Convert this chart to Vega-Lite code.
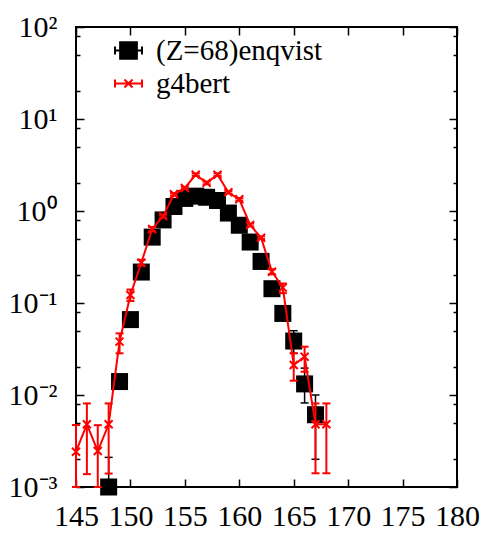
{
  "$schema": "https://vega.github.io/schema/vega-lite/v6.json",
  "width": 381,
  "height": 460,
  "autosize": "none",
  "padding": {"left": 76, "top": 27, "right": 30, "bottom": 49},
  "background": "white",
  "config": {
    "view": {"stroke": "black", "strokeWidth": 2},
    "font": "Liberation Serif",
    "axis": {
      "domain": false,
      "grid": false,
      "ticks": true,
      "tickColor": "black",
      "tickWidth": 1.5,
      "labelFont": "Liberation Serif",
      "labelFontSize": 30,
      "labelColor": "black",
      "title": null
    },
    "legend": {
      "labelFont": "Liberation Serif",
      "labelFontSize": 29,
      "labelColor": "black",
      "labelLimit": 400,
      "title": null,
      "orient": "none",
      "padding": 0,
      "symbolSize": 729,
      "symbolStrokeWidth": 2,
      "labelOffset": 13
    }
  },
  "datasets": {
    "enq": [
      {"A": 148, "v": 0.00100, "lo": 0.00100, "hi": 0.0021},
      {"A": 149, "v": 0.0140, "lo": 0.0130, "hi": 0.0150},
      {"A": 150, "v": 0.0660, "lo": 0.0620, "hi": 0.0700},
      {"A": 151, "v": 0.217, "lo": 0.205, "hi": 0.229},
      {"A": 152, "v": 0.52, "lo": 0.50, "hi": 0.54},
      {"A": 153, "v": 0.80, "lo": 0.78, "hi": 0.82},
      {"A": 154, "v": 1.12, "lo": 1.09, "hi": 1.15},
      {"A": 155, "v": 1.37, "lo": 1.34, "hi": 1.40},
      {"A": 156, "v": 1.45, "lo": 1.42, "hi": 1.48},
      {"A": 157, "v": 1.41, "lo": 1.38, "hi": 1.44},
      {"A": 158, "v": 1.30, "lo": 1.27, "hi": 1.33},
      {"A": 159, "v": 0.95, "lo": 0.92, "hi": 0.98},
      {"A": 160, "v": 0.70, "lo": 0.68, "hi": 0.72},
      {"A": 161, "v": 0.46, "lo": 0.445, "hi": 0.475},
      {"A": 162, "v": 0.283, "lo": 0.273, "hi": 0.293},
      {"A": 163, "v": 0.143, "lo": 0.137, "hi": 0.149},
      {"A": 164, "v": 0.077, "lo": 0.072, "hi": 0.082},
      {"A": 165, "v": 0.0386, "lo": 0.0284, "hi": 0.050},
      {"A": 166, "v": 0.0132, "lo": 0.0082, "hi": 0.0196},
      {"A": 167, "v": 0.0061, "lo": 0.0020, "hi": 0.0100}
    ],
    "g4": [
      {"A": 145, "v": 0.00242, "lo": 0.00100, "hi": 0.00472},
      {"A": 146, "v": 0.0048, "lo": 0.00138, "hi": 0.0081},
      {"A": 147, "v": 0.00246, "lo": 0.00100, "hi": 0.0047},
      {"A": 148, "v": 0.0048, "lo": 0.0014, "hi": 0.0081},
      {"A": 149, "v": 0.038, "lo": 0.0284, "hi": 0.0468},
      {"A": 150, "v": 0.122, "lo": 0.105, "hi": 0.140},
      {"A": 151, "v": 0.274, "lo": 0.255, "hi": 0.295},
      {"A": 152, "v": 0.637, "lo": 0.60, "hi": 0.67},
      {"A": 153, "v": 0.88, "lo": 0.85, "hi": 0.91},
      {"A": 154, "v": 1.52, "lo": 1.47, "hi": 1.57},
      {"A": 155, "v": 1.78, "lo": 1.73, "hi": 1.83},
      {"A": 156, "v": 2.48, "lo": 2.40, "hi": 2.56},
      {"A": 157, "v": 2.02, "lo": 1.95, "hi": 2.09},
      {"A": 158, "v": 2.48, "lo": 2.40, "hi": 2.56},
      {"A": 159, "v": 1.60, "lo": 1.55, "hi": 1.65},
      {"A": 160, "v": 1.34, "lo": 1.30, "hi": 1.38},
      {"A": 161, "v": 0.705, "lo": 0.68, "hi": 0.73},
      {"A": 162, "v": 0.513, "lo": 0.495, "hi": 0.53},
      {"A": 163, "v": 0.219, "lo": 0.205, "hi": 0.233},
      {"A": 164, "v": 0.147, "lo": 0.128, "hi": 0.163},
      {"A": 165, "v": 0.0212, "lo": 0.0143, "hi": 0.0284},
      {"A": 166, "v": 0.0261, "lo": 0.0179, "hi": 0.0335},
      {"A": 167, "v": 0.0048, "lo": 0.00141, "hi": 0.0081},
      {"A": 168, "v": 0.0048, "lo": 0.00141, "hi": 0.0081}
    ]
  },
  "layer": [
    {
      "data": {"name": "enq"},
      "mark": {"type": "rule", "color": "black", "strokeWidth": 1.5},
      "encoding": {
        "x": {"field": "A", "type": "quantitative", "axis": null, "scale": {"domain": [145, 180], "nice": false, "zero": false}},
        "y": {"field": "lo", "type": "quantitative", "axis": null, "scale": {"type": "log", "domain": [0.001, 100], "nice": false}},
        "y2": {"field": "hi"}
      }
    },
    {
      "data": {"name": "enq"},
      "mark": {"type": "tick", "orient": "horizontal", "color": "black", "size": 8, "thickness": 1.5, "opacity": 1},
      "encoding": {
        "x": {"field": "A", "type": "quantitative", "axis": null, "scale": {"domain": [145, 180], "nice": false, "zero": false}},
        "y": {"field": "lo", "type": "quantitative", "axis": null, "scale": {"type": "log", "domain": [0.001, 100], "nice": false}}
      }
    },
    {
      "data": {"name": "enq"},
      "mark": {"type": "tick", "orient": "horizontal", "color": "black", "size": 8, "thickness": 1.5, "opacity": 1},
      "encoding": {
        "x": {"field": "A", "type": "quantitative", "axis": null, "scale": {"domain": [145, 180], "nice": false, "zero": false}},
        "y": {"field": "hi", "type": "quantitative", "axis": null, "scale": {"type": "log", "domain": [0.001, 100], "nice": false}}
      }
    },
    {
      "data": {"name": "enq"},
      "mark": {"type": "point", "shape": "square", "size": 289, "filled": true, "color": "black", "opacity": 1},
      "encoding": {
        "x": {"field": "A", "type": "quantitative", "scale": {"domain": [145, 180], "nice": false, "zero": false},
          "axis": {"orient": "bottom", "values": [145, 150, 155, 160, 165, 170, 175, 180], "tickSize": -8, "labelPadding": 22, "labelDx": 4, "labelFlush": false, "labelOverlap": false, "format": "d"}},
        "y": {"field": "v", "type": "quantitative", "scale": {"type": "log", "domain": [0.001, 100], "nice": false},
          "axis": {"orient": "left", "values": [0.001, 0.002, 0.005, 0.008, 0.01, 0.02, 0.05, 0.08, 0.1, 0.2, 0.5, 0.8, 1, 2, 5, 8, 10, 20, 50, 80, 100],
            "tickSize": {"condition": {"test": "abs(log(datum.value)/LN10 - round(log(datum.value)/LN10)) < 0.01", "value": -8}, "value": -4},
            "labelExpr": "abs(log(datum.value)/LN10 - round(log(datum.value)/LN10)) < 0.01 ? ['10⁻³','10⁻²','10⁻¹','10⁰','10¹','10²'][round(log(datum.value)/LN10)+3] : ''",
            "labelPadding": 27, "labelOverlap": false, "labelFlush": false, "labelBaseline": "middle"}}
      }
    },
    {
      "data": {"name": "g4"},
      "mark": {"type": "line", "color": "red", "strokeWidth": 2},
      "encoding": {
        "x": {"field": "A", "type": "quantitative", "scale": {"domain": [145, 180], "nice": false, "zero": false},
          "axis": {"orient": "top", "values": [145, 150, 155, 160, 165, 170, 175, 180], "tickSize": -8, "labels": false}},
        "y": {"field": "v", "type": "quantitative", "scale": {"type": "log", "domain": [0.001, 100], "nice": false},
          "axis": {"orient": "right", "values": [0.001, 0.002, 0.005, 0.008, 0.01, 0.02, 0.05, 0.08, 0.1, 0.2, 0.5, 0.8, 1, 2, 5, 8, 10, 20, 50, 80, 100],
            "tickSize": {"condition": {"test": "abs(log(datum.value)/LN10 - round(log(datum.value)/LN10)) < 0.01", "value": -8}, "value": -4},
            "labels": false}}
      }
    },
    {
      "data": {"name": "g4"},
      "mark": {"type": "rule", "color": "red", "strokeWidth": 2},
      "encoding": {
        "x": {"field": "A", "type": "quantitative", "axis": null, "scale": {"domain": [145, 180], "nice": false, "zero": false}},
        "y": {"field": "lo", "type": "quantitative", "axis": null, "scale": {"type": "log", "domain": [0.001, 100], "nice": false}},
        "y2": {"field": "hi"}
      }
    },
    {
      "data": {"name": "g4"},
      "mark": {"type": "tick", "orient": "horizontal", "color": "red", "size": 8, "thickness": 2, "opacity": 1},
      "encoding": {
        "x": {"field": "A", "type": "quantitative", "axis": null, "scale": {"domain": [145, 180], "nice": false, "zero": false}},
        "y": {"field": "lo", "type": "quantitative", "axis": null, "scale": {"type": "log", "domain": [0.001, 100], "nice": false}}
      }
    },
    {
      "data": {"name": "g4"},
      "mark": {"type": "tick", "orient": "horizontal", "color": "red", "size": 8, "thickness": 2, "opacity": 1},
      "encoding": {
        "x": {"field": "A", "type": "quantitative", "axis": null, "scale": {"domain": [145, 180], "nice": false, "zero": false}},
        "y": {"field": "hi", "type": "quantitative", "axis": null, "scale": {"type": "log", "domain": [0.001, 100], "nice": false}}
      }
    },
    {
      "data": {"name": "g4"},
      "mark": {"type": "point", "shape": "M-1,-1L1,1M-1,1L1,-1", "size": 64, "filled": false, "stroke": "red", "strokeWidth": 2, "opacity": 1},
      "encoding": {
        "x": {"field": "A", "type": "quantitative", "axis": null, "scale": {"domain": [145, 180], "nice": false, "zero": false}},
        "y": {"field": "v", "type": "quantitative", "axis": null, "scale": {"type": "log", "domain": [0.001, 100], "nice": false}}
      }
    },
    {
      "data": {"name": "enq"},
      "transform": [{"filter": "false"}],
      "mark": {"type": "point", "filled": true, "opacity": 1, "shape": "M-1,0H1M-1,-0.3V0.3M1,-0.3V0.3M-0.62,-0.62H0.62V0.62H-0.62Z"},
      "encoding": {
        "x": {"field": "A", "type": "quantitative", "axis": null, "scale": {"domain": [145, 180], "nice": false, "zero": false}},
        "y": {"field": "v", "type": "quantitative", "axis": null, "scale": {"type": "log", "domain": [0.001, 100], "nice": false}},
        "color": {"field": "s1", "type": "nominal",
          "scale": {"domain": ["(Z=68)enqvist"], "range": ["black"]},
          "legend": {"legendX": 38, "legendY": 9, "symbolType": "M-1,0H1M-1,-0.3V0.3M1,-0.3V0.3M-0.62,-0.62H0.62V0.62H-0.62Z", "symbolStrokeColor": "black", "symbolFillColor": "black"}}
      }
    },
    {
      "data": {"name": "g4"},
      "transform": [{"filter": "false"}],
      "mark": {"type": "point", "filled": false, "opacity": 1, "color": "red", "strokeWidth": 2},
      "encoding": {
        "x": {"field": "A", "type": "quantitative", "axis": null, "scale": {"domain": [145, 180], "nice": false, "zero": false}},
        "y": {"field": "v", "type": "quantitative", "axis": null, "scale": {"type": "log", "domain": [0.001, 100], "nice": false}},
        "shape": {"field": "s2", "type": "nominal",
          "scale": {"domain": ["g4bert"], "range": ["M-1,0H1M-1,-0.3V0.3M1,-0.3V0.3M-0.3,-0.3L0.3,0.3M-0.3,0.3L0.3,-0.3"]},
          "legend": {"legendX": 38, "legendY": 42, "symbolStrokeColor": "red", "symbolFillColor": "transparent"}}
      }
    }
  ],
  "resolve": {"axis": {"x": "independent", "y": "independent"}}
}
